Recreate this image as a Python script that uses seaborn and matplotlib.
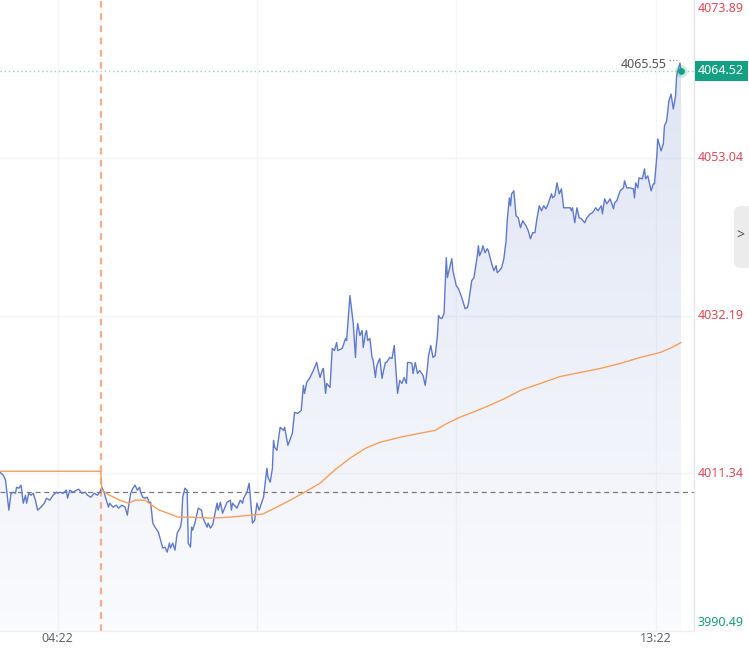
import numpy as np
import pandas as pd
import matplotlib.pyplot as plt
import seaborn as sns
from matplotlib.patches import PathPatch, FancyBboxPatch

# Intraday price, minutes after 03:30
price_minutes = [0, 3, 5, 8, 10, 12, 14, 15, 17, 19, 21, 23, 24, 26, 28, 30, 32, 34, 37, 40,
                 42, 45, 48, 51, 52, 54, 57, 60, 61, 63, 66, 69, 71, 74, 77, 79, 82, 85, 88, 90,
                 92, 94, 96, 98, 99, 102, 105, 107, 110, 113, 115, 116, 118, 120, 122, 124, 126, 127, 129, 131,
                 133, 135, 136, 138, 140, 143, 145, 147, 149, 151, 153, 154, 156, 158, 160, 163, 164, 165, 167, 169,
                 170, 172, 173, 174, 176, 179, 182, 183, 187, 188, 190, 192, 196, 197, 199, 201, 205, 208, 209, 210,
                 214, 217, 219, 220, 223, 225, 227, 228, 230, 232, 234, 237, 238, 241, 242, 244, 246, 247, 248, 250,
                 253, 256, 257, 260, 264, 266, 269, 272, 274, 275, 277, 280, 283, 284, 286, 287, 289, 291, 292, 293,
                 294, 295, 298, 300, 302, 304, 305, 309, 312, 313, 316, 318, 319, 321, 322, 323, 325, 327, 328, 330,
                 331, 332, 334, 336, 337, 339, 340, 341, 343, 345, 346, 348, 349, 352, 354, 356, 358, 359, 361, 363,
                 365, 367, 368, 370, 372, 373, 375, 377, 379, 382, 384, 386, 387, 389, 391, 393, 395, 396, 397, 399,
                 401, 403, 404, 405, 408, 409, 412, 414, 417, 420, 422, 423, 426, 428, 431, 432, 433, 435, 436, 438,
                 440, 441, 444, 446, 448, 449, 451, 453, 455, 457, 458, 460, 461, 462, 464, 466, 468, 470, 472, 475,
                 477, 479, 481, 483, 485, 487, 489, 491, 493, 495, 498, 499, 501, 503, 505, 507, 509, 512, 515, 516,
                 517, 519, 521, 523, 525, 528, 530, 533, 535, 538, 540, 543, 544, 546, 548, 551, 554, 555, 557, 560,
                 563, 564, 566, 569, 572, 573, 574, 576, 577, 580, 582, 583, 585, 588, 590, 591, 593, 594, 597, 599,
                 600, 602, 604, 606, 608, 610, 611, 612, 614, 615]
price_values = [4011.47, 4011.08, 4010.42, 4006.46, 4008.70, 4008.83, 4008.70, 4009.49, 4009.36, 4009.76,
                4007.38, 4008.44, 4007.38, 4008.70, 4008.44, 4008.70, 4007.78, 4006.46, 4006.86, 4007.38,
                4008.04, 4007.78, 4008.44, 4008.83, 4008.70, 4008.83, 4008.70, 4009.10, 4008.04, 4009.10,
                4008.83, 4009.10, 4009.23, 4008.70, 4008.83, 4008.44, 4008.17, 4008.70, 4008.44, 4008.83,
                4009.49, 4008.83, 4007.78, 4006.86, 4007.38, 4006.86, 4007.12, 4006.72, 4007.12, 4006.86,
                4005.80, 4006.86, 4008.70, 4009.36, 4009.76, 4009.10, 4009.49, 4008.83, 4008.17, 4008.04,
                4008.17, 4007.38, 4007.51, 4004.75, 4004.22, 4003.56, 4002.50, 4001.45, 4001.58, 4000.92,
                4002.11, 4001.45, 4002.11, 4001.18, 4003.43, 4004.22, 4005.14, 4008.17, 4009.36, 4009.10,
                4002.11, 4001.58, 4004.22, 4003.82, 4004.75, 4006.72, 4006.46, 4005.54, 4004.22, 4004.75,
                4004.09, 4004.48, 4007.38, 4006.46, 4007.51, 4006.06, 4007.51, 4007.78, 4006.46, 4007.38,
                4006.72, 4007.78, 4007.38, 4008.04, 4008.83, 4010.02, 4006.46, 4004.75, 4005.14, 4007.38,
                4006.46, 4007.78, 4008.17, 4012.00, 4010.81, 4010.15, 4012.00, 4015.69, 4014.77, 4014.37,
                4017.41, 4017.01, 4017.41, 4015.03, 4016.62, 4019.39, 4019.25, 4019.65, 4022.95, 4021.89,
                4023.34, 4024.00, 4024.93, 4025.32, 4025.98, 4025.19, 4024.00, 4024.93, 4025.19, 4023.61,
                4021.89, 4023.21, 4022.68, 4027.83, 4027.56, 4028.62, 4027.56, 4027.83, 4029.15, 4028.88,
                4034.82, 4032.44, 4031.13, 4026.64, 4029.81, 4031.13, 4029.54, 4030.20, 4027.96, 4029.81,
                4030.20, 4028.88, 4029.15, 4026.64, 4026.24, 4024.00, 4025.32, 4025.85, 4026.51, 4023.87,
                4024.66, 4025.98, 4025.98, 4026.64, 4026.51, 4028.22, 4023.87, 4021.89, 4023.61, 4023.21,
                4024.00, 4023.21, 4025.98, 4025.98, 4025.85, 4024.53, 4025.98, 4024.53, 4024.93, 4024.27,
                4022.95, 4025.32, 4026.90, 4028.22, 4026.64, 4026.90, 4029.54, 4032.18, 4031.92, 4031.78,
                4032.44, 4039.83, 4037.19, 4037.85, 4039.70, 4038.12, 4036.14, 4035.74, 4034.55, 4033.10,
                4033.24, 4033.76, 4036.80, 4037.19, 4040.09, 4041.41, 4040.09, 4040.75, 4041.41, 4040.49,
                4041.02, 4040.75, 4039.04, 4038.12, 4038.78, 4037.85, 4038.12, 4038.51, 4039.70, 4042.07,
                4044.71, 4047.74, 4046.69, 4048.27, 4048.67, 4045.37, 4045.11, 4043.79, 4044.71, 4044.05,
                4043.39, 4042.34, 4043.13, 4043.13, 4045.11, 4046.69, 4046.03, 4046.69, 4046.29, 4046.95,
                4048.27, 4047.74, 4048.01, 4049.72, 4048.27, 4048.93, 4046.43, 4046.43, 4046.43, 4046.03,
                4046.43, 4044.45, 4046.43, 4045.11, 4044.97, 4044.45, 4045.11, 4045.63, 4045.77, 4046.43,
                4046.03, 4046.69, 4045.63, 4047.61, 4046.95, 4047.61, 4046.29, 4047.09, 4047.35, 4048.67,
                4049.06, 4049.99, 4049.06, 4049.06, 4048.93, 4047.74, 4049.72, 4049.06, 4050.38, 4050.25,
                4051.57, 4050.25, 4050.65, 4048.67, 4049.59, 4049.59, 4053.02, 4055.53, 4053.94, 4054.87,
                4057.24, 4057.90, 4060.54, 4061.46, 4059.48, 4061.20, 4063.84, 4064.49, 4065.55, 4064.52]

# Average price line
avg_minutes = [0, 91, 92, 99, 108, 116, 122, 131, 137, 144, 154, 161, 172, 190, 208, 226, 237, 248,
               262, 275, 289, 302, 316, 330, 343, 361, 379, 393, 402, 415, 429, 442, 456, 470, 488,
               506, 524, 542, 560, 578, 596, 605, 615]
avg_values = [4011.60, 4011.60, 4009.10, 4008.44, 4007.78, 4007.38, 4007.78, 4007.78, 4007.12, 4006.46,
              4005.93, 4005.54, 4005.54, 4005.41, 4005.54, 4005.80, 4005.93, 4006.72, 4007.78, 4008.83,
              4010.02, 4011.74, 4013.32, 4014.64, 4015.43, 4016.09, 4016.62, 4017.01, 4017.80, 4018.73,
              4019.52, 4020.31, 4021.23, 4022.29, 4023.21, 4024.13, 4024.66, 4025.19, 4025.85, 4026.64,
              4027.30, 4027.83, 4028.62]

axis_levels = [3990.49, 4011.34, 4032.19, 4053.04, 4073.89]
prev_close = 4008.83
last_price = 4064.52
high_price = 4065.55
session_mark = 91
tick_minutes = [52, 592]
tick_labels = ['04:22', '13:22']
grid_minutes = [52, 232, 412, 592]

sns.set_theme(style='white')
plt.rcParams['font.family'] = ['Noto Sans', 'DejaVu Sans']

fig = plt.figure(figsize=(7.49, 6.52), dpi=100)
ax = fig.add_axes([0, 21 / 652, 694 / 749, 631 / 652])
x_end = 626.7

price = pd.DataFrame({'minute': price_minutes, 'value': price_values})
avg = pd.DataFrame({'minute': avg_minutes, 'value': avg_values})

# grid
for g in grid_minutes:
    ax.axvline(g, color='#f6f6f6', lw=1, zorder=0)
for v in axis_levels[1:-1]:
    ax.axhline(v, color='#f4f4f4', lw=1, zorder=0)

# gradient fill under the price line
poly = ax.fill_between(price_minutes, price_values, axis_levels[0], color='none', lw=0)
clip = PathPatch(poly.get_paths()[0], transform=ax.transData, facecolor='none', edgecolor='none')
ax.add_patch(clip)
grad = np.zeros((256, 1, 4))
grad[:, 0, 0] = 84 / 255
grad[:, 0, 1] = 112 / 255
grad[:, 0, 2] = 198 / 255
grad[:, 0, 3] = np.linspace(0.03, 0.2, 256)
im = ax.imshow(grad, extent=[0, x_end, axis_levels[0], axis_levels[-1]], origin='lower',
               aspect='auto', zorder=1)
im.set_clip_path(clip)

sns.lineplot(data=price, x='minute', y='value', color='#5f7acb', lw=1.0, ax=ax,
             estimator=None, sort=False, zorder=3)
sns.lineplot(data=avg, x='minute', y='value', color='#f5a05a', lw=1.0, ax=ax,
             estimator=None, sort=False, zorder=3)

ax.axvline(session_mark, color='#f5ad90', ls=(0, (3, 2.5)), lw=1.6, zorder=2)
ax.axhline(prev_close, color='#7a7a7a', ls=(0, (4, 3)), lw=0.9, zorder=2)
ax.axhline(last_price, color='#8fd6c6', ls=(0, (1, 2)), lw=1, zorder=2)

# last point marker
ax.scatter([price_minutes[-1]], [last_price], s=80, color='#1aa88a', alpha=0.22, lw=0, zorder=4)
ax.scatter([price_minutes[-1]], [last_price], s=24, color='#14a083', lw=0, zorder=5)

# high annotation
ax.text(602, high_price - 0.15, f'{high_price:.2f}', ha='right', va='center',
        color='#555555', fontsize=9, zorder=5)
ax.plot([604, 611], [high_price + 0.35, high_price + 0.35], ls=(0, (1, 1.5)), color='#999999', lw=1)

ax.set_xlim(0, x_end)
ax.set_ylim(axis_levels[0], axis_levels[-1])
ax.set_xticks(tick_minutes)
ax.set_xticklabels(tick_labels)
ax.set_yticks([])
ax.tick_params(axis='x', length=0, labelcolor='#666666', labelsize=9, pad=1)
ax.set_xlabel('')
ax.set_ylabel('')
for side in ['top', 'left']:
    ax.spines[side].set_visible(False)
ax.spines['right'].set_color('#e8e8e8')
ax.spines['bottom'].set_color('#f0f0f0')
ax.spines['right'].set_linewidth(1)
ax.spines['bottom'].set_linewidth(1)

# right-side price labels
ytrans = ax.get_yaxis_transform()
for i, v in enumerate(axis_levels):
    color = '#dd4b57' if v > prev_close else '#1a9e80'
    va = 'center'
    y = v
    if i == 0:
        va = 'bottom'
        y = v + 0.3
    elif i == len(axis_levels) - 1:
        va = 'top'
        y = v - 0.2
    ax.text(1.005, y, f'{v:.2f}', transform=ytrans, ha='left', va=va, color=color,
            fontsize=9, clip_on=False)

ax.text(1.006, last_price, f'{last_price:.2f}', transform=ytrans, ha='left', va='center',
        color='white', fontsize=9, clip_on=False, zorder=6,
        bbox=dict(boxstyle='square,pad=0.28', fc='#14a083', ec='none'))

# side handle
fig.patches.append(FancyBboxPatch((734 / 749, 1 - 268 / 652), 20 / 749, 62 / 652,
                                  boxstyle='round,pad=0,rounding_size=0.01',
                                  transform=fig.transFigure, fc='#ececec', ec='none'))
fig.text(740 / 749, 1 - 236 / 652, '>', ha='center', va='center', color='#555555', fontsize=10)

fig.savefig('out.png', dpi=100)
